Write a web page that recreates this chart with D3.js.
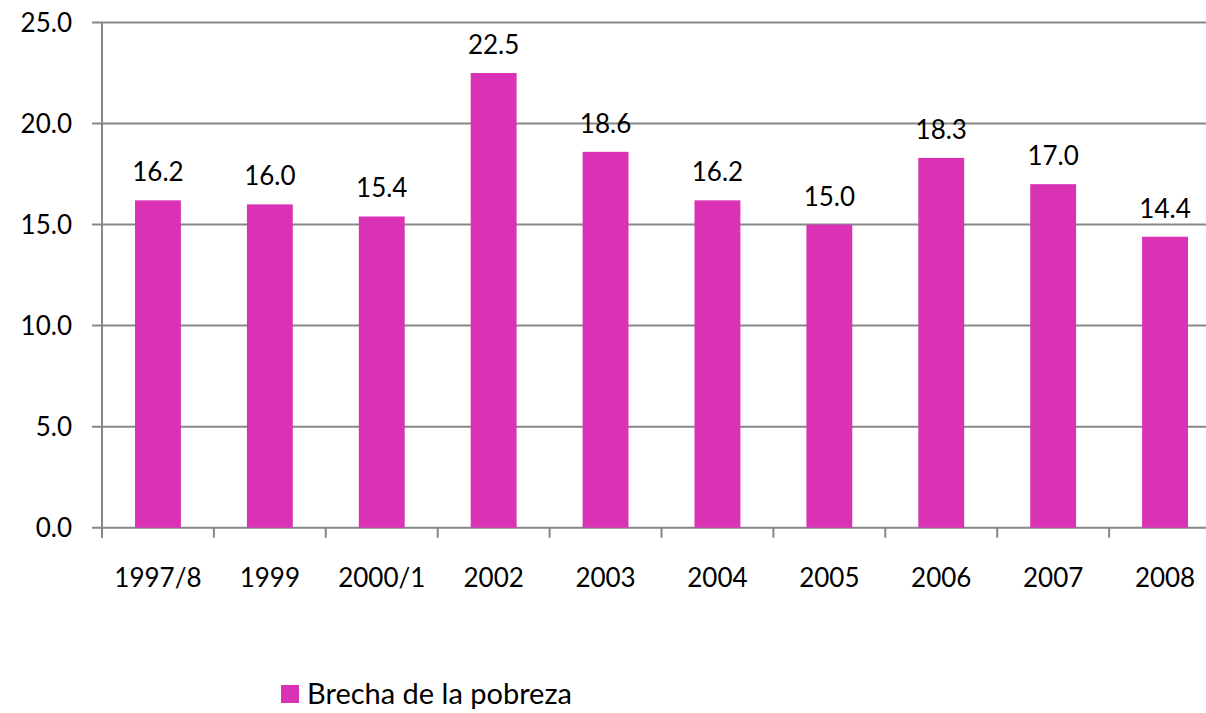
<!DOCTYPE html>
<html>
<head>
<meta charset="utf-8">
<script src="https://cdn.jsdelivr.net/npm/d3@7"></script>
<style>
  body { margin: 0; background: #fff; }
  svg { display: block; font-family: Lato, "Open Sans", sans-serif; }
</style>
</head>
<body>
<svg width="1206" height="713"></svg>
<script>
// Data
var categories = ["1997/8", "1999", "2000/1", "2002", "2003", "2004", "2005", "2006", "2007", "2008"]
  , values = [16.2, 16.0, 15.4, 22.5, 18.6, 16.2, 15.0, 18.3, 17.0, 14.4]
  , yTicks = [0, 5, 10, 15, 20, 25]
  , seriesName = "Brecha de la pobreza"
;

// Configuration (plot spans a bit past the right edge, as in the original)
var plot = { left: 102, right: 1221, top: 22.5, bottom: 527.7 }
  , barColor = "#DA32B4"
  , gridColor = "#878787"
;

var svg = d3.select("svg");

var xScale = d3.scaleBand()
    .domain(categories)
    .range([plot.left, plot.right])
    .paddingInner(0.59)
    .paddingOuter(0.295)
  , yScale = d3.scaleLinear()
    .domain([0, 25])
    .range([plot.bottom, plot.top])
;

// Gridlines
svg.append("g")
  .selectAll("line")
  .data(yTicks)
  .enter().append("line")
    .attr("x1", plot.left - 10)
    .attr("x2", plot.right)
    .attr("y1", function(d){ return yScale(d); })
    .attr("y2", function(d){ return yScale(d); })
    .attr("stroke", gridColor)
    .attr("stroke-width", 2);

// Y axis line
svg.append("line")
  .attr("x1", plot.left).attr("x2", plot.left)
  .attr("y1", plot.top).attr("y2", plot.bottom + 10)
  .attr("stroke", gridColor)
  .attr("stroke-width", 2);

// Y tick labels
svg.append("g")
  .selectAll("text")
  .data(yTicks)
  .enter().append("text")
    .attr("x", 72)
    .attr("y", function(d){ return yScale(d); })
    .attr("dy", "0.36em")
    .attr("text-anchor", "end")
    .attr("font-size", 26)
    .text(function(d){ return d3.format(".1f")(d); });

// X tick marks between bands
var step = xScale.step();
svg.append("g")
  .selectAll("line")
  .data(d3.range(categories.length + 1))
  .enter().append("line")
    .attr("x1", function(i){ return plot.left + i * step; })
    .attr("x2", function(i){ return plot.left + i * step; })
    .attr("y1", plot.bottom)
    .attr("y2", plot.bottom + 10)
    .attr("stroke", gridColor)
    .attr("stroke-width", 2);

// Bars
svg.append("g")
  .selectAll("rect")
  .data(values)
  .enter().append("rect")
    .attr("x", function(d, i){ return xScale(categories[i]); })
    .attr("y", function(d){ return yScale(d); })
    .attr("width", xScale.bandwidth())
    .attr("height", function(d){ return plot.bottom - yScale(d); })
    .attr("fill", barColor);

// Value labels
svg.append("g")
  .selectAll("text")
  .data(values)
  .enter().append("text")
    .attr("x", function(d, i){ return xScale(categories[i]) + xScale.bandwidth() / 2; })
    .attr("y", function(d){ return yScale(d) - 19; })
    .attr("text-anchor", "middle")
    .attr("font-size", 26)
    .text(function(d){ return d3.format(".1f")(d); });

// X labels
svg.append("g")
  .selectAll("text")
  .data(categories)
  .enter().append("text")
    .attr("x", function(d){ return xScale(d) + xScale.bandwidth() / 2; })
    .attr("y", 578)
    .attr("dy", "0.36em")
    .attr("text-anchor", "middle")
    .attr("font-size", 26)
    .text(function(d){ return d; });

// Legend
var legendG = svg.append("g").attr("transform", "translate(281, 685)");
legendG.append("rect")
  .attr("width", 18).attr("height", 18)
  .attr("fill", barColor);
legendG.append("text")
  .attr("x", 26)
  .attr("y", 9)
  .attr("dy", "0.36em")
  .attr("font-size", 29)
  .text(seriesName);
</script>
</body>
</html>
